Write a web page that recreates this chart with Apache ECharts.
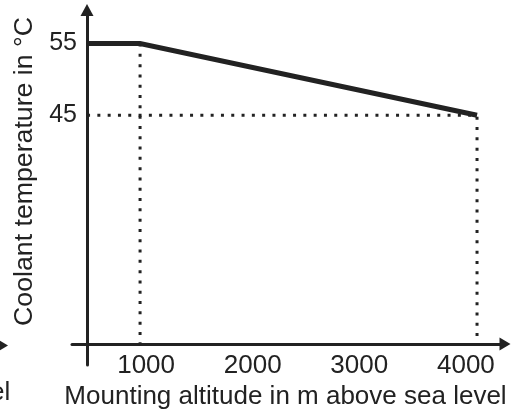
<!DOCTYPE html>
<html>
<head>
<meta charset="utf-8">
<script src="https://cdn.jsdelivr.net/npm/echarts@6/dist/echarts.min.js"></script>
<style>
html,body{margin:0;padding:0;background:#fff;}
#c{width:518px;height:419px;}
</style>
</head>
<body>
<div id="c"></div>
<script>
// Data
const altitude = [528, 1000, 4000];          // m above sea level
const coolantTemp = [55, 55, 45];            // °C
const kneeAltitude = 1000;
const endAltitude = 4000;
const kneeTemp = 55;
const endTemp = 45;
const xTickLabels = [1000, 2000, 3000, 4000];
const yTickLabels = [45, 55];
const yAxisCross = 13.2;   // temperature at which the x-axis crosses
const xAxisCross = 528;    // altitude at which the y-axis crosses

const FONT = "'Liberation Sans', Arial, sans-serif";
const INK = '#222222';

const chart = echarts.init(document.getElementById('c'), null, {renderer: 'canvas'});

const dotted = {color: INK, width: 3, type: [3, 7.3]};

chart.setOption({
  animation: false,
  backgroundColor: '#fff',
  grid: {left: 72, right: 13, top: 10, bottom: 54, containLabel: false},
  xAxis: [
    {
      type: 'value', min: 394, max: 4249, offset: -21,
      axisLine: {show: true, onZero: false, lineStyle: {color: INK, width: 3},
        symbol: ['none', 'triangle'], symbolSize: [13, 11]},
      axisTick: {show: false}, axisLabel: {show: false}, splitLine: {show: false},
      name: 'Mounting altitude in m above sea level',
      nameLocation: 'middle', nameGap: 40,
      nameTextStyle: {fontFamily: FONT, fontSize: 26, color: INK, padding: [0, 6, 0, 0]}
    },
    {
      type: 'value', min: 305, max: 4367, offset: -21, position: 'bottom',
      axisLine: {show: false}, axisTick: {show: false}, splitLine: {show: false},
      axisLabel: {
        show: true, margin: 9, fontFamily: FONT, fontSize: 26, color: INK,
        customValues: xTickLabels, formatter: v => String(v)
      }
    }
  ],
  yAxis: {
    type: 'value', min: 10.22, max: 59.67, offset: -15,
    axisLine: {show: true, onZero: false, lineStyle: {color: INK, width: 3},
      symbol: ['none', 'triangle'], symbolSize: [13, 12]},
    axisTick: {show: false}, splitLine: {show: false},
    axisLabel: {
      show: true, margin: 10, fontFamily: FONT, fontSize: 25, color: INK,
      customValues: yTickLabels, formatter: v => String(v)
    },
    name: 'Coolant temperature in °C',
    nameLocation: 'middle', nameRotate: 90, nameGap: 42,
    nameTextStyle: {fontFamily: FONT, fontSize: 26.7, color: INK, padding: [0, 0, 0, 32]}
  },
  series: [
    {
      type: 'line', xAxisIndex: 0, symbol: 'none', silent: true, z: 3,
      lineStyle: dotted,
      data: [[kneeAltitude, kneeTemp], [kneeAltitude, yAxisCross]]
    },
    {
      type: 'line', xAxisIndex: 0, symbol: 'none', silent: true, z: 3,
      lineStyle: dotted,
      data: [[xAxisCross, endTemp], [endAltitude, endTemp], [endAltitude, yAxisCross]]
    },
    {
      type: 'line', xAxisIndex: 0, symbol: 'none', silent: true, z: 4,
      lineStyle: {color: INK, width: 5, cap: 'butt', join: 'miter'},
      data: altitude.map((a, i) => [a, coolantTemp[i]])
    }
  ],
  graphic: [
    {type: 'text', left: -10, top: 380,
      style: {text: 'el', x: 0, y: 0, font: '26px ' + FONT, fill: INK}},
    {type: 'polygon', shape: {points: [[-2, 339.5], [8, 345.5], [-2, 351.5]]}, style: {fill: INK}}
  ]
});
</script>
</body>
</html>
